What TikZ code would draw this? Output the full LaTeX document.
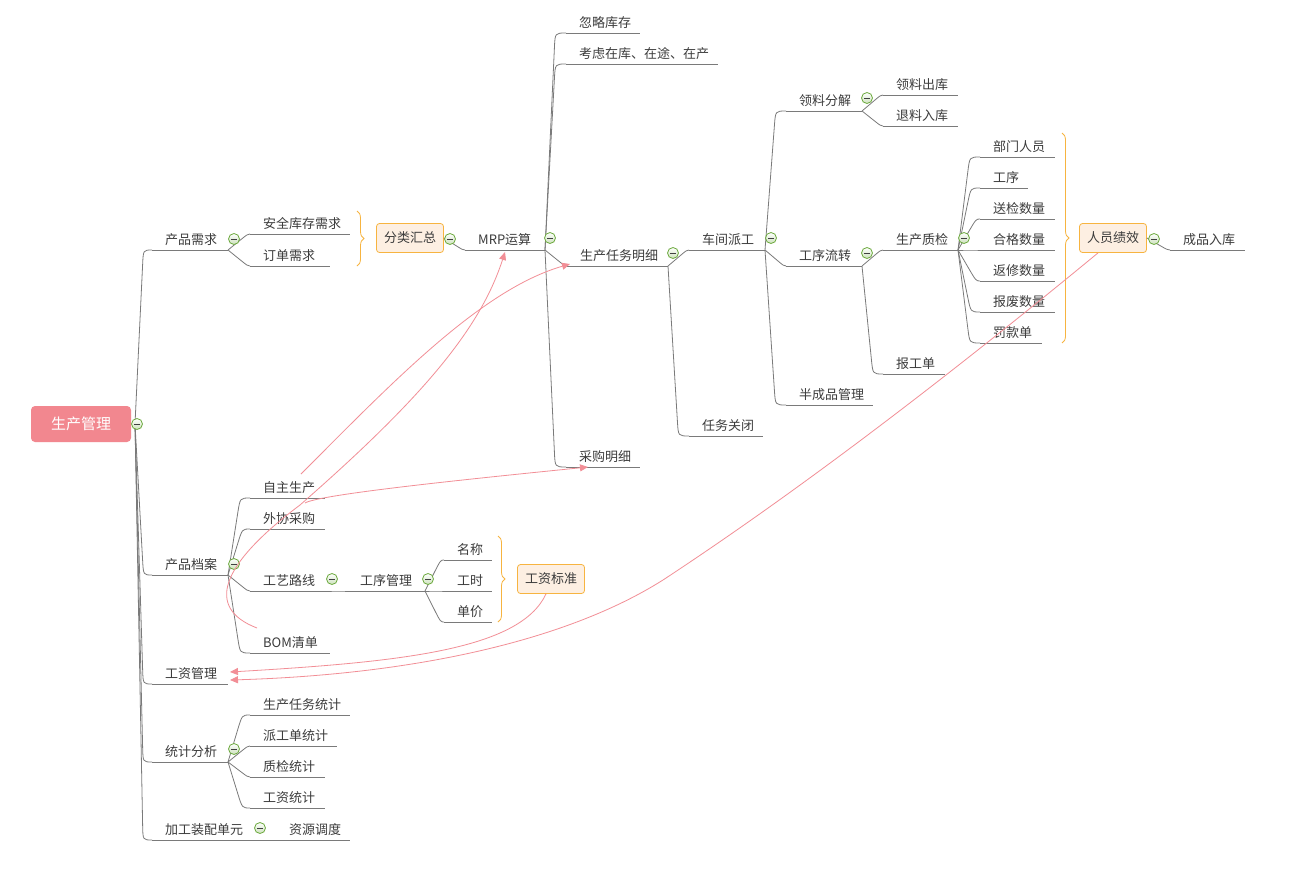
\documentclass[tikz,border=0pt]{standalone}
\usepackage{fontspec}
\setmainfont{Noto Sans CJK SC}
\usetikzlibrary{calc,arrows.meta,decorations.pathreplacing}
\definecolor{linegray}{HTML}{7A7A7A}
\definecolor{txt}{HTML}{3C3C3C}
\definecolor{rootpink}{HTML}{F2878F}
\definecolor{orng}{HTML}{F7B440}
\definecolor{boxfill}{HTML}{FDEFE2}
\definecolor{relpink}{HTML}{F28E96}
\definecolor{mingreen}{HTML}{6DAA3F}
\tikzset{
 branch/.style={draw=linegray, line width=0.8pt},
 topictext/.style={text=txt, font=\fontsize{13}{15}\selectfont, inner sep=0pt, anchor=base west},
 collapse/.style={circle, draw=mingreen, line width=0.8pt, top color=white, bottom color=mingreen!35, minimum size=11pt, inner sep=0pt,
   path picture={\draw[line width=1pt, black!75] ([xshift=-3pt]path picture bounding box.center) -- ([xshift=3pt]path picture bounding box.center);}},
 sumbox/.style={draw=orng, fill=boxfill, rounded corners=3pt, line width=0.8pt, minimum width=67pt, minimum height=29pt, text=txt, font=\fontsize{13}{15}\selectfont, inner sep=0pt},
 rootbox/.style={fill=rootpink, rounded corners=4pt, minimum width=100pt, minimum height=36pt, text=white, font=\fontsize{15}{17}\selectfont, inner sep=0pt},
 bracebr/.style={draw=orng, line width=0.8pt, decorate, decoration={brace, amplitude=7pt}},
 relation/.style={draw=relpink, line width=0.8pt, -{Triangle[length=8pt,width=7pt]}},
}
\newcommand\topic[5]{%
  \coordinate (#1-s) at (#2,#4);
  \coordinate (#1-e) at (#3,#4);
  \node[topictext] (#1) at ({#2+13},{#4-6}) {#5};
  \draw[branch] (#1-s) -- (#1-e);
}
\newcommand\branchto[2]{\draw[branch] let \p1=(#1-e), \p2=(#2-s),
  \n1={abs(\y2-\y1)}, \n2={min(\n1/2,14)}, \n3={ifthenelse(\y2>\y1,1,-1)},
  \n4={\x1+0.45*(\x2-\x1)}, \n5={\n4+(\n4-\x1)*\n2/max(\n1-\n2,0.01)}
  in (\p1) -- ({\n4*1pt},{\y2-\n3*\n2*1pt}) .. controls ({\n5*1pt},\y2) .. (\p2);}
\begin{document}
\begin{tikzpicture}[x=1pt,y=-1pt]
\useasboundingbox (0,0) rectangle (1299,873);
\fill[white] (0,0) rectangle (1299,873);

% root
\node[rootbox] (root) at (81,424) {生产管理};
\coordinate (root-e) at (135,424);

% level 1
\topic{pr}{152}{228}{250}{产品需求}
\topic{pd}{152}{228}{575}{产品档案}
\topic{gz}{152}{228}{684}{工资管理}
\topic{tj}{152}{228}{762}{统计分析}
\topic{jg}{152}{255}{840}{加工装配单元}
\foreach \c in {pr,pd,gz,tj,jg} {\branchto{root}{\c}}

% 产品需求
\topic{aq}{250}{350}{234}{安全库存需求}
\topic{dd}{250}{330}{266}{订单需求}
\branchto{pr}{aq}\branchto{pr}{dd}
\draw[bracebr] (357,211) -- (357,266);
\node[sumbox] (fl) at (410,238) {分类汇总};
\coordinate (fl-e) at (fl.east);

% MRP
\topic{mrp}{465}{545}{250}{MRP运算}
\branchto{fl}{mrp}
\topic{hl}{566}{640}{33}{忽略库存}
\topic{kl}{566}{718}{64}{考虑在库、在途、在产}
\topic{sc}{567}{668}{266}{生产任务明细}
\topic{cg}{566}{640}{467}{采购明细}
\foreach \c in {hl,kl,sc,cg} {\branchto{mrp}{\c}}

% 生产任务明细
\topic{cj}{689}{765}{250}{车间派工}
\topic{rw}{689}{763}{436}{任务关闭}
\branchto{sc}{cj}\branchto{sc}{rw}

% 车间派工
\topic{ll}{786}{862}{111}{领料分解}
\topic{gx}{786}{862}{266}{工序流转}
\topic{bc}{786}{873}{405}{半成品管理}
\foreach \c in {ll,gx,bc} {\branchto{cj}{\c}}

\topic{lc}{883}{958}{95}{领料出库}
\topic{tl}{883}{958}{126}{退料入库}
\branchto{ll}{lc}\branchto{ll}{tl}

\topic{zj}{883}{958}{250}{生产质检}
\topic{bg}{883}{945}{374}{报工单}
\branchto{gx}{zj}\branchto{gx}{bg}

\topic{bm}{980}{1055}{157}{部门人员}
\topic{gxu}{980}{1028}{188}{工序}
\topic{sj}{980}{1055}{219}{送检数量}
\topic{hg}{980}{1055}{250}{合格数量}
\topic{fx}{980}{1055}{281}{返修数量}
\topic{bf}{980}{1055}{312}{报废数量}
\topic{fk}{980}{1042}{343}{罚款单}
\foreach \c in {bm,gxu,sj,hg,fx,bf,fk} {\branchto{zj}{\c}}
\draw[bracebr] (1062,133) -- (1062,343);
\node[sumbox] (jx) at (1113,238) {人员绩效};
\coordinate (jx-e) at (jx.east);
\topic{cp}{1170}{1245}{250}{成品入库}
\branchto{jx}{cp}

% 产品档案
\topic{zz}{250}{325}{498}{自主生产}
\topic{wx}{250}{325}{529}{外协采购}
\topic{gy}{250}{327}{591}{工艺路线}
\topic{bom}{250}{330}{653}{BOM清单}
\foreach \c in {zz,wx,gy,bom} {\branchto{pd}{\c}}
\topic{gxgl}{347}{425}{591}{工序管理}
\branchto{gy}{gxgl}
\topic{mc}{444}{492}{560}{名称}
\topic{gs}{444}{492}{591}{工时}
\topic{dj}{444}{492}{622}{单价}
\foreach \c in {mc,gs,dj} {\branchto{gxgl}{\c}}
\draw[bracebr] (498,536) -- (498,622);
\node[sumbox] (gzbz) at (551,579) {工资标准};

% 统计分析
\topic{t1}{250}{350}{715}{生产任务统计}
\topic{t2}{250}{337}{746}{派工单统计}
\topic{t3}{250}{325}{777}{质检统计}
\topic{t4}{250}{325}{808}{工资统计}
\foreach \c in {t1,t2,t3,t4} {\branchto{tj}{\c}}

% 加工装配单元
\topic{zy}{276}{350}{840}{资源调度}
\branchto{jg}{zy}

% collapse markers
\node[collapse] (root-c) at (137,424) {};
\node[collapse] (pr-c) at (234,239) {};
\node[collapse] (pd-c) at (234,564) {};
\node[collapse] (tj-c) at (234,749) {};
\node[collapse] (jg-c) at (260,828) {};
\node[collapse] (fl-c) at (450,239) {};
\node[collapse] (mrp-c) at (550,238) {};
\node[collapse] (sc-c) at (673,253) {};
\node[collapse] (cj-c) at (771,238) {};
\node[collapse] (ll-c) at (867,98) {};
\node[collapse] (gx-c) at (867,253) {};
\node[collapse] (zj-c) at (964,238) {};
\node[collapse] (jx-c) at (1154,239) {};
\node[collapse] (gy-c) at (332,579) {};
\node[collapse] (gxgl-c) at (428,579) {};

% relationships
\coordinate (r1s) at (301,474);
\coordinate (r1e) at (570,264);
\coordinate (r2s) at (257,628);
\coordinate (r2e) at (505,252);
\coordinate (r3s) at (305,503);
\coordinate (r3e) at (588,467);
\coordinate (r4e) at (230,672);
\coordinate (r5e) at (230,680);
\draw[relation] (r1s) .. controls (390,385) and (480,290) .. (r1e);
\draw[relation] (r2s) .. controls (205,608) and (220,565) .. (300,505) .. controls (420,400) and (480,330) .. (r2e);
\draw[relation] (r3s) .. controls (320,494) and (480,478) .. (r3e);
\draw[relation] ([xshift=-5pt]gzbz.south) .. controls (520,650) and (400,662) .. (r4e);
\draw[relation] ([xshift=-15pt]jx.south) .. controls (950,375) and (800,490) .. (663,580) .. controls (560,645) and (400,675) .. (r5e);
\end{tikzpicture}
\end{document}
